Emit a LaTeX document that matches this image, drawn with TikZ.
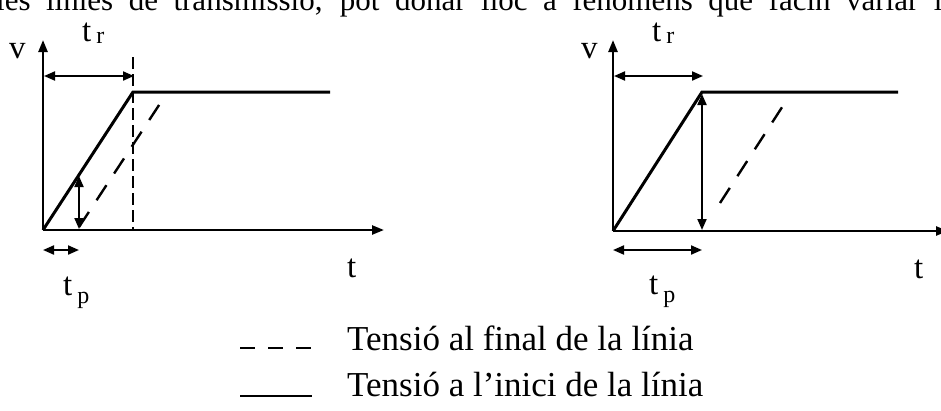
\documentclass[tikz,border=0pt]{standalone}
\usepackage{fontspec}
\setmainfont{Liberation Serif}[Ligatures=Common]
\usetikzlibrary{arrows.meta}
\newcommand\idxlab[2]{\hspace{5pt}\raisebox{#2}{\fontsize{24}{24}\selectfont #1}}
\begin{document}
\begin{tikzpicture}[x=1pt,y=-1pt,
  axis/.style={line width=2.4pt,-{Triangle[length=12pt,width=9pt]}},
  ramp/.style={line width=3pt},
  dbl/.style={line width=2pt,{Triangle[length=11pt,width=9pt]}-{Triangle[length=11pt,width=9pt]}},
  dline/.style={line width=2.4pt,dash pattern=on 18pt off 14pt},
  vdash/.style={line width=2pt,dash pattern=on 12pt off 5pt},
  lab/.style={font=\fontsize{33}{33}\selectfont, inner sep=0pt, anchor=base west},
  leg/.style={font=\fontsize{35}{35}\selectfont, inner sep=0pt, anchor=base west},
]
\useasboundingbox (0,0) rectangle (941,410);
\fill[white] (0,0) rectangle (941,410);
% running text of the page, cut by the top edge
\node[anchor=base west, inner sep=0pt, font=\fontsize{31}{31}\selectfont] (toptext) at (-4,10)
  {\makebox[960pt][s]{les línies de transmissió, pot donar lloc a fenòmens que facin variar la}};

% ---------- left plot ----------
\coordinate (O1) at (43,230);
\coordinate (Y1) at (43,40);
\coordinate (X1) at (384,230);
\coordinate (P1) at (133,92);
\coordinate (E1) at (330,92);
\draw[axis] (O1) -- (Y1);
\draw[axis] (O1) -- (X1);
\draw[ramp,line join=miter] (O1) -- (P1) -- (E1);
\coordinate (VT1) at (133,57);
\coordinate (VB1) at (133,230);
\draw[vdash] (VT1) -- (VB1);
\coordinate (D1a) at (79,227);
\coordinate (D1b) at (165,96);
\draw[dline] (D1a) -- (D1b);
\coordinate (A1b) at (79,229);
\coordinate (A1t) at (79,176);
\draw[dbl] (A1b) -- (A1t);
\coordinate (R1a) at (44,76);
\coordinate (R1b) at (134,76);
\draw[dbl] (R1a) -- (R1b);
\coordinate (T1a) at (43,250);
\coordinate (T1b) at (79,250);
\draw[dbl] (T1a) -- (T1b);
\node[lab] (v1) at (9,58) {v};
\node[lab] (tr1) at (82,41) {t\idxlab{r}{-2pt}};
\node[lab] (tp1) at (63,295) {t\idxlab{p}{-8pt}};
\node[lab] (t1) at (347,277) {t};

% ---------- right plot ----------
\coordinate (O2) at (613,231);
\coordinate (Y2) at (613,40);
\coordinate (X2) at (948,231);
\coordinate (P2) at (702,92);
\coordinate (E2) at (898,92);
\draw[axis] (O2) -- (Y2);
\draw[axis] (O2) -- (X2);
\draw[ramp,line join=miter] (O2) -- (P2) -- (E2);
\coordinate (D2a) at (720,203);
\coordinate (D2b) at (788,98);
\draw[dline] (D2a) -- (D2b);
\coordinate (A2b) at (702,230);
\coordinate (A2t) at (702,94);
\draw[dbl] (A2b) -- (A2t);
\coordinate (R2a) at (614,76);
\coordinate (R2b) at (703,76);
\draw[dbl] (R2a) -- (R2b);
\coordinate (T2a) at (613,250);
\coordinate (T2b) at (702,250);
\draw[dbl] (T2a) -- (T2b);
\node[lab] (v2) at (581,58) {v};
\node[lab] (tr2) at (652,41) {t\idxlab{r}{-2pt}};
\node[lab] (tp2) at (649,294) {t\idxlab{p}{-8pt}};
\node[lab] (t2) at (914,278) {t};

% ---------- legend ----------
\coordinate (L1a) at (240,348);
\coordinate (L1b) at (312,348);
\draw[line width=2.2pt,dash pattern=on 15pt off 13pt] (L1a) -- (L1b);
\coordinate (L2a) at (240,396);
\coordinate (L2b) at (312,396);
\draw[line width=2.2pt] (L2a) -- (L2b);
\node[leg] (leg1) at (347,350) {Tensió al final de la línia};
\node[leg] (leg2) at (347,396) {Tensió a l'inici de la línia};
\end{tikzpicture}
\end{document}
